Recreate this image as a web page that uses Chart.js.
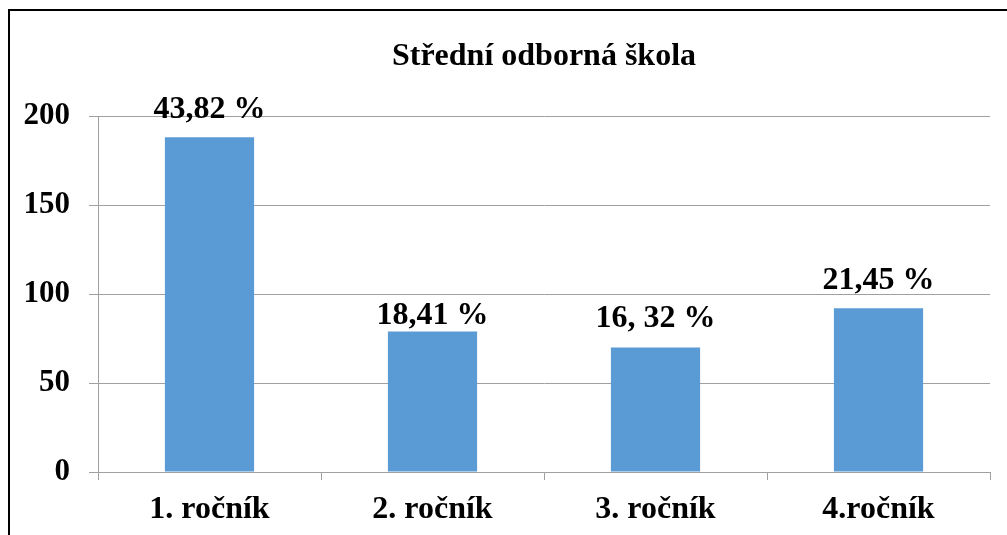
<!DOCTYPE html>
<html>
<head>
<meta charset="utf-8">
<script src="https://cdn.jsdelivr.net/npm/chart.js@4"></script>
<style>
  html, body { margin: 0; padding: 0; background: #fff; overflow: hidden; }
  #wrap { position: relative; width: 1007px; height: 535px; }
  #frame { position: absolute; left: 8px; top: 9px; right: -10px; bottom: -10px; border-left: 2px solid #000; border-top: 2px solid #000; pointer-events: none; }
</style>
</head>
<body>
<div id="wrap">
  <canvas id="sosChart" width="1007" height="535"></canvas>
  <div id="frame"></div>
</div>
<script>
// data
const categories = ['1. ročník', '2. ročník', '3. ročník', '4.ročník']
const counts = [188, 79, 70, 92]
const percentLabels = ['43,82 %', '18,41 %', '16, 32 %', '21,45 %']
const yTicks = [0, 50, 100, 150, 200]

const gridColor = '#a0a0a0'
const serif = 'Liberation Serif, Times New Roman, serif'

// labels above bars
const barLabels = {
    id: 'barLabels',
    afterDatasetsDraw(chart, args, opts) {
        const ctx = chart.ctx
        const meta = chart.getDatasetMeta(0)
        ctx.save()
        ctx.font = 'bold 32px ' + serif
        ctx.fillStyle = '#000'
        ctx.textAlign = 'center'
        ctx.textBaseline = 'alphabetic'
        meta.data.forEach((bar, i) => {
            ctx.fillText(percentLabels[i], bar.x, bar.y - opts.lift[i])
        })
        ctx.restore()
    }
}

const ctx = document.getElementById('sosChart').getContext('2d')
new Chart(ctx, {
    type: 'bar',
    data: {
        labels: categories,
        datasets: [{
            data: counts,
            backgroundColor: '#5b9bd5',
            borderWidth: 0,
            barPercentage: 0.4,
            categoryPercentage: 1
        }]
    },
    options: {
        responsive: false,
        animation: false,
        layout: { padding: { left: 0, right: 17, top: 0, bottom: 0 } },
        scales: {
            x: {
                grid: { offset: true, drawOnChartArea: false, tickLength: 8, color: gridColor },
                border: { color: gridColor },
                ticks: { color: '#000', padding: 11, font: { family: serif, size: 32, weight: 'bold' } },
                afterFit: s => { s.height = 63 }
            },
            y: {
                min: 0,
                max: 200,
                afterBuildTicks: s => { s.ticks = yTicks.map(v => ({ value: v })) },
                grid: { color: gridColor, tickLength: 9 },
                border: { color: gridColor },
                ticks: { color: '#000', padding: 19, font: { family: serif, size: 31, weight: 'bold' } },
                afterFit: s => { s.width = 98 }
            }
        },
        plugins: {
            legend: { display: false },
            tooltip: { enabled: false },
            title: {
                display: true,
                fullSize: false,
                text: 'Střední odborná škola',
                color: '#000',
                font: { family: serif, size: 32, weight: 'bold' },
                padding: { top: 38, bottom: 39.6 }
            },
            barLabels: { lift: [19, 7, 20, 19] }
        }
    },
    plugins: [barLabels]
})
</script>
</body>
</html>
